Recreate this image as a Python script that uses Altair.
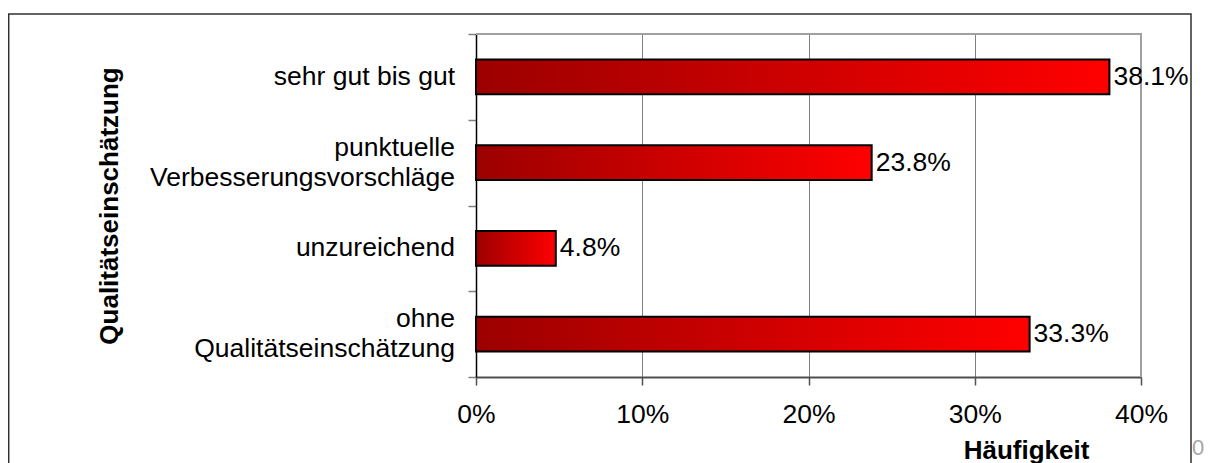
import altair as alt
import pandas as pd

categories = ["sehr gut bis gut", "punktuelle\nVerbesserungsvorschläge", "unzureichend", "ohne\nQualitätseinschätzung"]
values = [0.381, 0.238, 0.048, 0.333]
x_ticks = [0, 0.1, 0.2, 0.3, 0.4]

df = pd.DataFrame({"cat": categories, "val": values})
FONT = "Liberation Sans"
FS = 26.5
W, H = 665, 343

gradient = alt.Gradient(
    gradient="linear",
    stops=[alt.GradientStop(color="#9c0000", offset=0),
           alt.GradientStop(color="#ff0000", offset=1)],
    x1=0, x2=1, y1=0, y2=0,
)

x_enc = alt.X(
    "val:Q",
    scale=alt.Scale(domain=[0, 0.4], nice=False),
    axis=alt.Axis(
        values=x_ticks, format=".0%", grid=True, gridColor="#808080", gridWidth=1,
        domainColor="#505050", domainWidth=2, tickColor="#505050", tickWidth=1.5, tickSize=8,
        labelFont=FONT, labelFontSize=FS, labelColor="#000000", labelPadding=16,
        labelFlush=False, labelOverlap=False,
        title="Häufigkeit", titleFont=FONT, titleFontSize=26, titleFontWeight="bold",
        titleColor="#000000", titleX=550, titleY=81, titleAlign="center",
        titleBaseline="alphabetic", titleAngle=0,
    ),
)
y_enc = alt.Y(
    "cat:N",
    sort=categories,
    scale=alt.Scale(paddingInner=0, paddingOuter=0),
    axis=alt.Axis(
        tickBand="extent", grid=False, domainColor="#000000", domainWidth=1.5,
        tickColor="#808080", tickWidth=1.5, tickSize=8, labels=False,
        title="Qualitätseinschätzung", titleFont=FONT, titleFontSize=26, titleFontWeight="bold",
        titleColor="#000000", titleX=-359, titleY=171.5, titleAngle=270,
        titleAlign="center", titleBaseline="alphabetic",
    ),
)

bars = alt.Chart(df).mark_bar(
    fill=gradient, stroke="#000000", strokeWidth=2, height={"band": 0.408}
).encode(x=x_enc, y=y_enc)

labels = alt.Chart(df).mark_text(
    align="left", baseline="middle", dx=4, font=FONT, fontSize=FS, color="#000000"
).encode(
    x=alt.X("val:Q"), y=alt.Y("cat:N", sort=categories),
    text=alt.Text("val:Q", format=".1%"),
)

cat_single = alt.Chart(df).transform_filter(
    "indexof(datum.cat, '\\n') < 0"
).mark_text(
    align="right", baseline="middle", font=FONT, fontSize=FS, color="#000000"
).encode(
    x=alt.value(-21), y=alt.Y("cat:N", sort=categories), text="cat:N"
)
cat_multi = alt.Chart(df).transform_filter(
    "indexof(datum.cat, '\\n') >= 0"
).mark_text(
    align="right", baseline="middle", font=FONT, fontSize=FS, color="#000000",
    lineBreak="\n", lineHeight=30, dy=-15,
).encode(
    x=alt.value(-21), y=alt.Y("cat:N", sort=categories), text="cat:N"
)

one = pd.DataFrame({"a": [0]})
top_border = alt.Chart(one).mark_rect(fill="#a0a0a0").encode(
    x=alt.value(0), x2=alt.value(W + 1), y=alt.value(-1), y2=alt.value(1)
)
right_border = alt.Chart(one).mark_rect(fill="#a0a0a0").encode(
    x=alt.value(W - 1), x2=alt.value(W + 1), y=alt.value(-1), y2=alt.value(H)
)
frame = alt.Chart(one).mark_rect(fill=None, stroke="#303030", strokeWidth=1.5).encode(
    x=alt.value(-467.3), x2=alt.value(715), y=alt.value(-20), y2=alt.value(440)
)
stray = alt.Chart(one).mark_text(
    text="0", align="left", baseline="alphabetic", font=FONT, fontSize=22, color="#a6a6a6"
).encode(x=alt.value(716), y=alt.value(421))

chart = alt.layer(bars, top_border, right_border, labels, cat_single, cat_multi, frame, stray).properties(
    width=W, height=H,
    autosize=alt.AutoSizeParams(type="none"),
    padding={"left": 468, "top": 26, "right": 64, "bottom": 86},
).configure(background="#ffffff").configure_view(stroke=None)

chart.save("out.html", embed_options={"renderer": "svg", "actions": False})
